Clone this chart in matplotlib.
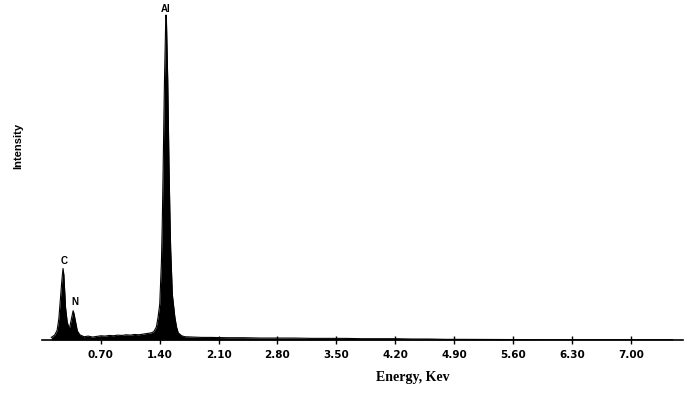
import matplotlib
matplotlib.use("Agg")
import matplotlib.pyplot as plt

# Spectrum (energy keV, intensity with Al peak = 100)
energy = [0.11, 0.15, 0.18, 0.20, 0.22, 0.235, 0.25, 0.26, 0.27, 0.28, 0.30, 0.32, 0.33,
          0.35, 0.37, 0.38, 0.40, 0.42, 0.45, 0.50, 0.55, 0.60, 0.65, 0.70, 0.75, 0.80,
          0.85, 0.90, 0.95, 1.00, 1.05, 1.10, 1.15, 1.20, 1.25, 1.30, 1.33, 1.36, 1.38,
          1.40, 1.42, 1.43, 1.44, 1.455, 1.47, 1.475, 1.48, 1.495, 1.51, 1.52, 1.53, 1.55,
          1.58, 1.60, 1.62, 1.66, 1.70, 1.80, 1.90, 2.00, 2.20, 2.40, 2.60, 2.80, 3.00,
          3.20, 3.40, 3.60, 3.80, 4.00, 4.20, 4.40, 4.60, 4.80, 5.00, 5.50, 6.00, 6.50,
          7.00, 7.50]
intensity = [0.8, 1.5, 3.0, 6.5, 13.0, 18.0, 22.0, 20.0, 15.0, 10.0, 5.5, 3.8, 4.0,
             6.5, 9.0, 8.2, 5.5, 2.8, 1.6, 1.0, 1.2, 0.9, 1.1, 1.3, 1.2, 1.4,
             1.3, 1.5, 1.4, 1.6, 1.5, 1.7, 1.6, 1.8, 2.0, 2.2, 2.6, 4.0, 7.0,
             11.0, 24.0, 36.0, 52.0, 78.0, 97.0, 100.0, 98.0, 80.0, 54.0, 40.0, 28.0, 14.0,
             7.0, 4.0, 2.2, 1.3, 1.0, 0.9, 0.8, 0.8, 0.7, 0.7, 0.6, 0.6, 0.6,
             0.5, 0.5, 0.5, 0.4, 0.4, 0.4, 0.3, 0.3, 0.2, 0.2, 0.15, 0.1, 0.1,
             0.1, 0.1]

tick_values = [0.70, 1.40, 2.10, 2.80, 3.50, 4.20, 4.90, 5.60, 6.30, 7.00]
tick_labels = ["0.70", "1.40", "2.10", "2.80", "3.50", "4.20", "4.90", "5.60", "6.30", "7.00"]

peak_names = ["C", "N", "Al"]
peak_energy = [0.25, 0.37, 1.475]
peak_height = [22.0, 9.0, 100.0]

W, H = 685, 393
fig = plt.figure(figsize=(W / 100, H / 100), dpi=100)
ax = fig.add_axes([42 / W, (H - 340) / H, (683 - 42) / W, 335 / H])

ax.fill_between(energy, 0, intensity, color="black", linewidth=0)
ax.plot(energy, intensity, color="black", linewidth=0.8)

ax.set_xlim(0, (683 - 42) / 84.1)
ax.set_ylim(0, 335 / 3.25)

for s in ["left", "right", "top"]:
    ax.spines[s].set_visible(False)
ax.spines["bottom"].set_linewidth(1.2)
ax.set_yticks([])
ax.set_xticks(tick_values)
ax.set_xticklabels(tick_labels, fontweight="bold", fontsize=7.5,
                   family=["Liberation Sans Narrow", "DejaVu Sans"])
ax.tick_params(axis="x", direction="inout", length=6, width=1, pad=4)

offsets = [(1, 2), (1, 3), (0, 0.5)]
for name, e, h, off in zip(peak_names, peak_energy, peak_height, offsets):
    ax.annotate(name, (e, h), xytext=off, textcoords="offset points",
                ha="center", va="bottom", fontsize=7, fontweight="bold",
                family=["Liberation Sans", "DejaVu Sans"])

fig.text(413 / W, 1 - 377 / H, "Energy, Kev", ha="center", va="center",
         fontsize=10, fontweight="bold", family=["Liberation Serif", "DejaVu Serif"])
fig.text(18 / W, 1 - 146 / H, "Intensity", ha="center", va="center", rotation=90,
         fontsize=8, fontweight="bold", family=["Liberation Sans", "DejaVu Sans"])

fig.savefig("out.png", dpi=100)
